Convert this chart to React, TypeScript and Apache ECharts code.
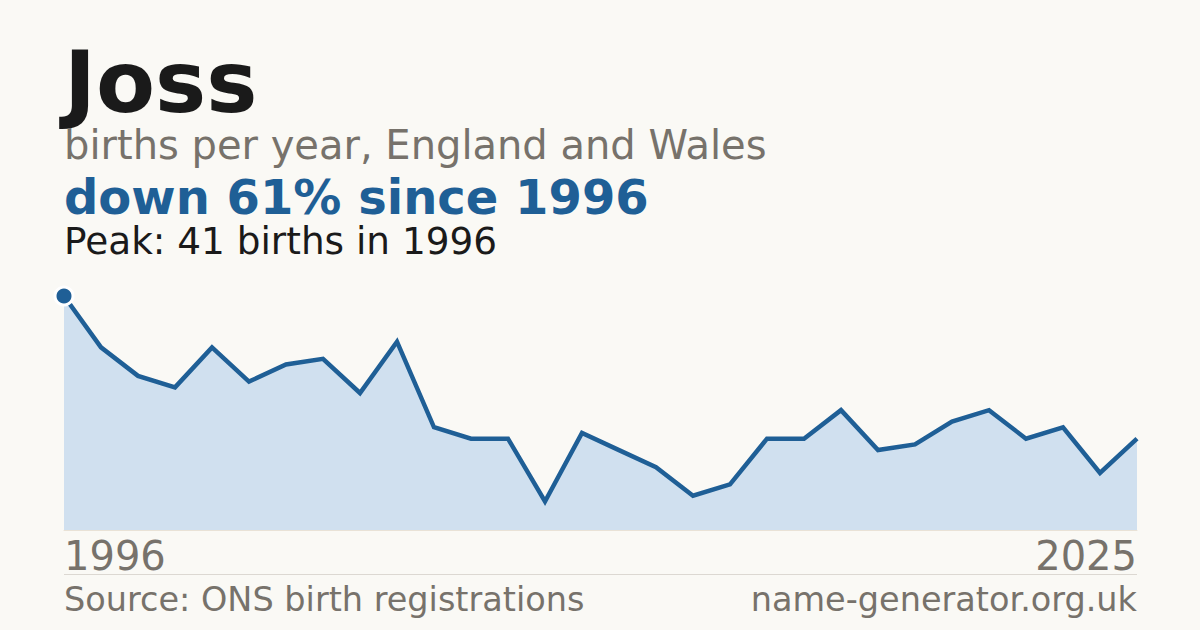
import React, { useEffect, useRef } from "react";
import * as echarts from "echarts";

const years = [
  "1996", "1997", "1998", "1999", "2000", "2001", "2002", "2003", "2004", "2005",
  "2006", "2007", "2008", "2009", "2010", "2011", "2012", "2013", "2014", "2015",
  "2016", "2017", "2018", "2019", "2020", "2021", "2022", "2023", "2024", "2025",
];
const births = [
  41, 32, 27, 25, 32, 26, 29, 30, 24, 33,
  18, 16, 16, 5, 17, 14, 11, 6, 8, 16,
  16, 21, 14, 15, 19, 21, 16, 18, 10, 16,
];
const peakIndex = 0;

const titleText = "Joss";
const subtitleText = "births per year, England and Wales";
const changeText = "down 61% since 1996";
const peakText = "Peak: 41 births in 1996";
const sourceText = "Source: ONS birth registrations";
const siteText = "name-generator.org.uk";

const FONT = "'DejaVu Sans', sans-serif";
const BLUE = "#1f5f96";
const BG = "#faf9f5";

export default function App() {
  const ref = useRef<HTMLDivElement>(null);
  useEffect(() => {
    document.body.style.margin = "0";
    document.body.style.background = BG;
    if (!ref.current) return;
    const chart = echarts.init(ref.current, null, { renderer: "svg" });
    const last = years.length - 1;
    chart.setOption({
      animation: false,
      backgroundColor: BG,
      grid: { left: 64, right: 63, top: 296, bottom: 100 },
      xAxis: {
        type: "category",
        data: years,
        boundaryGap: false,
        axisLine: { show: true, lineStyle: { color: "#e9e2d6", width: 1 } },
        axisTick: { show: false },
        splitLine: { show: false },
        axisLabel: {
          interval: (i: number) => i === 0 || i === last,
          alignMinLabel: "left",
          alignMaxLabel: "right",
          margin: 6,
          fontFamily: FONT,
          fontSize: 40,
          color: "#77726b",
        },
      },
      yAxis: {
        type: "value",
        min: 0,
        max: 41,
        show: false,
        splitLine: { show: false },
      },
      series: [
        {
          type: "line",
          data: births.map((v, i) =>
            i === peakIndex
              ? {
                  value: v,
                  symbol: "circle",
                  symbolSize: 18,
                  itemStyle: { color: BLUE, borderColor: "#ffffff", borderWidth: 3 },
                }
              : { value: v, symbol: "none" }
          ),
          showSymbol: true,
          lineStyle: { color: BLUE, width: 4.5, join: "miter" },
          areaStyle: { color: "#d0e0ef", opacity: 1 },
          z: 2,
        },
      ],
      graphic: [
        {
          type: "text", left: 64, top: 39,
          style: { text: titleText, font: `bold 86px ${FONT}`, fill: "#1a1a1a" },
        },
        {
          type: "text", left: 64, top: 125,
          style: { text: subtitleText, font: `40px ${FONT}`, fill: "#77726b" },
        },
        {
          type: "text", left: 64, top: 173,
          style: { text: changeText, font: `bold 48px ${FONT}`, fill: BLUE },
        },
        {
          type: "text", left: 64, top: 222,
          style: { text: peakText, font: `37.4px ${FONT}`, fill: "#1a1a1a" },
        },
        {
          type: "line",
          shape: { x1: 64, y1: 574.5, x2: 1137, y2: 574.5 },
          style: { stroke: "#dcd8d2", lineWidth: 1 },
        },
        {
          type: "text", left: 64, top: 582.5,
          style: { text: sourceText, font: `33.5px ${FONT}`, fill: "#77726b" },
        },
        {
          type: "text", right: 63, top: 582.5,
          style: { text: siteText, font: `33.5px ${FONT}`, fill: "#77726b" },
        },
      ],
    });
    return () => chart.dispose();
  }, []);
  return <div ref={ref} style={{ width: 1200, height: 630 }} />;
}
